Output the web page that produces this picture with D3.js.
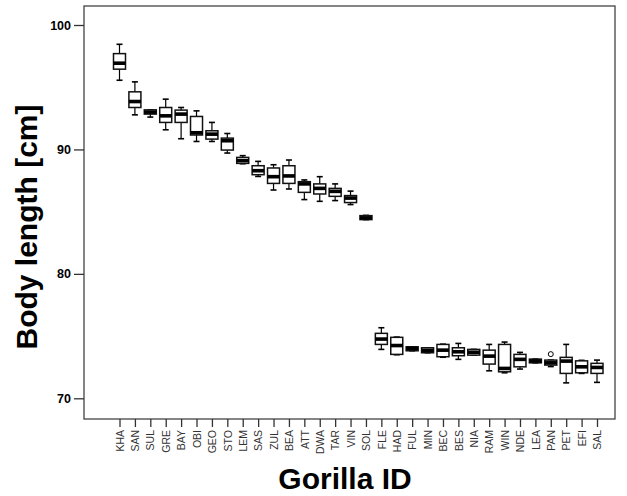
<!DOCTYPE html>
<html>
<head>
<meta charset="utf-8">
<script src="https://cdn.jsdelivr.net/npm/d3@7"></script>
<style>
  body { margin: 0; background: #fff; }
  svg { display: block; font-family: "Liberation Sans", Arial, sans-serif; }
</style>
</head>
<body>
<div id="chart"></div>
<script>
// gorilla ids along x
var ids = ["KHA","SAN","SUL","GRE","BAY","OBI","GEO","STO","LEM","SAS","ZUL","BEA","ATT","DWA","TAR","VIN",
           "SOL","FLE","HAD","FUL","MIN","BEC","BES","NIA","RAM","WIN","NDE","LEA","PAN","PET","EFI","SAL"];

// box stats (cm)
var whiskerHigh = [98.45,95.43,93.18,94.04,93.37,93.1,92.17,91.28,89.5,89.04,88.77,89.15,87.55,87.81,87.23,86.65,
                   84.7,75.67,74.92,74.14,74.06,74.35,74.41,73.93,74.33,74.52,73.69,73.15,73.07,74.33,73.05,73.07];
var q3 =          [97.7,94.63,93.18,93.37,93.16,92.65,91.5,90.91,89.36,88.69,88.51,88.69,87.41,87.23,86.87,86.29,
                   84.68,75.22,74.9,74.14,74.06,74.33,74.06,73.93,73.87,74.33,73.53,73.15,73.07,73.29,73.01,72.81];
var medians =     [96.93,93.85,93.0,92.7,92.84,91.34,91.23,90.7,89.1,88.29,87.81,87.87,87.23,86.87,86.63,86.09,
                   84.5,74.76,74.24,74.0,73.85,73.87,73.74,73.7,73.39,72.4,73.13,73.0,72.85,72.99,72.53,72.48];
var q1 =          [96.45,93.37,92.84,92.17,92.17,91.16,90.83,89.95,88.88,87.97,87.27,87.27,86.55,86.42,86.23,85.73,
                   84.36,74.33,73.53,73.82,73.66,73.34,73.42,73.47,72.75,72.13,72.53,72.85,72.67,72.0,72.05,72.0];
var whiskerLow =  [95.56,92.78,92.6,91.58,90.86,90.64,90.64,89.71,88.85,87.83,86.74,86.82,85.97,85.83,85.89,85.57,
                   84.36,73.93,73.5,73.82,73.66,73.3,73.13,73.47,72.21,72.05,72.35,72.85,72.55,71.24,72.0,71.28];
var outliers = [{id: "PAN", value: 73.55}];

var yTicks = [70, 80, 90, 100];

var width = 627, height = 496;
var frame = {left: 84, top: 6, right: 615, bottom: 419};

var svg = d3.select("#chart").append("svg")
    .attr("width", width)
    .attr("height", height);

var xScale = d3.scalePoint()
    .domain(ids)
    .range([119.5, 597]);

var yScale = d3.scaleLinear()
    .domain([70, 100])
    .range([398.3, 25]);

var boxes = ids.map(function(id, i){
    return {id: id, hi: whiskerHigh[i], q3: q3[i], med: medians[i], q1: q1[i], lo: whiskerLow[i]};
});

// plot frame
svg.append("rect")
    .attr("x", frame.left)
    .attr("y", frame.top)
    .attr("width", frame.right - frame.left)
    .attr("height", frame.bottom - frame.top)
    .attr("fill", "none")
    .attr("stroke", "#444")
    .attr("stroke-width", 1.3);

// y axis
var yAxis = svg.append("g")
    .attr("transform", "translate(" + frame.left + ",0)")
    .call(d3.axisLeft(yScale).tickValues(yTicks).tickSize(10).tickPadding(3).tickFormat(d3.format("d")));
yAxis.select(".domain").remove();
yAxis.selectAll("line").attr("stroke", "#333").attr("stroke-width", 1.3);
yAxis.selectAll("text")
    .attr("font-family", "Liberation Sans, Arial, sans-serif")
    .attr("font-size", 12.5)
    .attr("font-weight", "bold")
    .attr("fill", "#000");

// x axis
var xAxis = svg.append("g")
    .attr("transform", "translate(0," + frame.bottom + ")")
    .call(d3.axisBottom(xScale).tickSize(8).tickPadding(3));
xAxis.select(".domain").remove();
xAxis.selectAll("line").attr("stroke", "#333").attr("stroke-width", 1.3);
xAxis.selectAll("text")
    .attr("font-family", "Liberation Sans, Arial, sans-serif")
    .attr("font-size", 10.5)
    .attr("fill", "#333")
    .attr("text-anchor", "end")
    .attr("dy", "0.35em")
    .attr("transform", "translate(0,11) rotate(-90)")
    .attr("x", 0)
    .attr("y", 0);

// boxplots
var bw = 12, cap = 6;
var g = svg.append("g").attr("class", "boxes");

var box = g.selectAll(".box")
    .data(boxes)
    .enter()
    .append("g")
    .attr("class", "box")
    .attr("transform", function(d){ return "translate(" + xScale(d.id) + ",0)"; });

box.append("line")
    .attr("x1", 0).attr("x2", 0)
    .attr("y1", function(d){ return yScale(d.hi); })
    .attr("y2", function(d){ return yScale(d.lo); })
    .attr("stroke", "#000")
    .attr("stroke-width", 1.2);

box.append("line")
    .attr("x1", -cap/2).attr("x2", cap/2)
    .attr("y1", function(d){ return yScale(d.hi); })
    .attr("y2", function(d){ return yScale(d.hi); })
    .attr("stroke", "#000")
    .attr("stroke-width", 1.6);

box.append("line")
    .attr("x1", -cap/2).attr("x2", cap/2)
    .attr("y1", function(d){ return yScale(d.lo); })
    .attr("y2", function(d){ return yScale(d.lo); })
    .attr("stroke", "#000")
    .attr("stroke-width", 1.6);

box.append("rect")
    .attr("x", -bw/2)
    .attr("width", bw)
    .attr("y", function(d){ return yScale(d.q3); })
    .attr("height", function(d){ return Math.max(yScale(d.q1) - yScale(d.q3), 0.5); })
    .attr("fill", "#fff")
    .attr("stroke", "#111")
    .attr("stroke-width", 1.5);

// median as a thick band
box.append("rect")
    .attr("x", -bw/2)
    .attr("width", bw)
    .attr("y", function(d){ return yScale(d.med) - 1.8; })
    .attr("height", 3.6)
    .attr("fill", "#000");

// outliers
svg.append("g").selectAll("circle")
    .data(outliers)
    .enter()
    .append("circle")
    .attr("cx", function(d){ return xScale(d.id); })
    .attr("cy", function(d){ return yScale(d.value); })
    .attr("r", 2.5)
    .attr("fill", "#fff")
    .attr("stroke", "#000")
    .attr("stroke-width", 1);

// titles
svg.append("text")
    .attr("transform", "translate(37,227) rotate(-90)")
    .attr("text-anchor", "middle")
    .attr("font-size", 30)
    .attr("font-weight", "bold")
    .text("Body length [cm]");

svg.append("text")
    .attr("x", 345)
    .attr("y", 489)
    .attr("text-anchor", "middle")
    .attr("font-size", 30)
    .attr("font-weight", "bold")
    .text("Gorilla ID");
</script>
</body>
</html>
